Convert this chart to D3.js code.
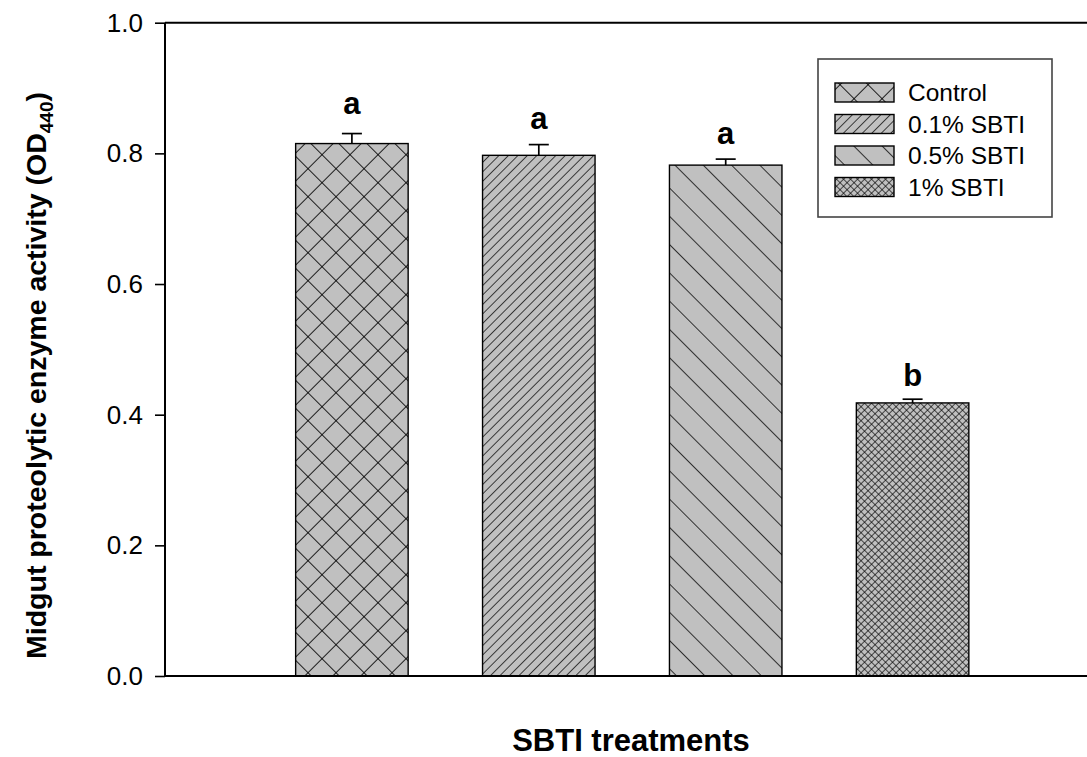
<!DOCTYPE html>
<html><head><meta charset="utf-8">
<script src="https://cdn.jsdelivr.net/npm/d3@7/dist/d3.min.js"></script>
<style>html,body{margin:0;padding:0;background:#fff;} svg{display:block;}</style>
</head><body>
<svg id="chart" width="1087" height="757"></svg>
<script>
// ---- data ----
const categories = ["Control", "0.1% SBTI", "0.5% SBTI", "1% SBTI"];
const values = [0.815, 0.797, 0.782, 0.418];
const errors = [0.0153, 0.0164, 0.0092, 0.0057];
const letters = ["a", "a", "a", "b"];
const letterY = [0.860, 0.837, 0.814, 0.444];
const yTicks = [0.0, 0.2, 0.4, 0.6, 0.8, 1.0];
const patterns = ["pCtrl", "pSlash", "pBack", "pFine"];

const svg = d3.select("#chart");
const plotLeft = 165, plotTop = 22.7, plotBottom = 676;
const x = d3.scaleLinear().domain([0, 5]).range([plotLeft, plotLeft + 5 * 186.9]);
const y = d3.scaleLinear().domain([0, 1]).range([plotBottom, plotTop]);
const barW = 112.5;
const fillGray = "#c0c0c0";
const FONT = "Liberation Sans, Arial, sans-serif";

// ---- patterns ----
const defs = svg.append("defs");
function hatch(id, spacing, angle, cross, sw) {
  const p = defs.append("pattern").attr("id", id)
    .attr("patternUnits", "userSpaceOnUse")
    .attr("width", spacing).attr("height", spacing)
    .attr("patternTransform", `rotate(${angle})`);
  p.append("rect").attr("width", spacing).attr("height", spacing).attr("fill", fillGray);
  p.append("line").attr("x1", 0).attr("y1", 0).attr("x2", 0).attr("y2", spacing)
    .attr("stroke", "#000").attr("stroke-width", sw);
  if (cross) p.append("line").attr("x1", 0).attr("y1", 0).attr("x2", spacing).attr("y2", 0)
    .attr("stroke", "#000").attr("stroke-width", sw);
}
hatch("pCtrl", 19.8, 45, true, 1.7);
hatch("pSlash", 6.7, 45, false, 1.4);
hatch("pBack", 20, -45, false, 1.5);
hatch("pFine", 4.95, 45, true, 1.3);

// ---- bars ----
const g = svg.append("g");
categories.forEach((c, i) => {
  const cx = x(i + 1);
  g.append("rect")
    .attr("x", cx - barW / 2).attr("y", y(values[i]))
    .attr("width", barW).attr("height", y(0) - y(values[i]))
    .attr("fill", `url(#${patterns[i]})`)
    .attr("stroke", "#000").attr("stroke-width", 1.4);
  g.append("line").attr("x1", cx).attr("x2", cx)
    .attr("y1", y(values[i])).attr("y2", y(values[i] + errors[i]))
    .attr("stroke", "#000").attr("stroke-width", 1.7);
  g.append("line").attr("x1", cx - 10).attr("x2", cx + 10)
    .attr("y1", y(values[i] + errors[i])).attr("y2", y(values[i] + errors[i]))
    .attr("stroke", "#000").attr("stroke-width", 1.7);
  g.append("text").attr("x", cx).attr("y", y(letterY[i]))
    .attr("text-anchor", "middle")
    .attr("font-family", FONT)
    .attr("font-weight", "bold").attr("font-size", 31)
    .text(letters[i]);
});

// ---- axes / frame ----
const yAxis = d3.axisLeft(y).tickValues(yTicks).tickFormat(d3.format(".1f"))
  .tickSize(10).tickPadding(12);
const ya = svg.append("g").attr("transform", `translate(${plotLeft},0)`).call(yAxis);
ya.select(".domain").remove();
ya.selectAll(".tick line").attr("stroke", "#000").attr("stroke-width", 1.6);
ya.selectAll(".tick text").attr("font-family", FONT)
  .attr("font-size", 26).attr("fill", "#000");

svg.append("line").attr("x1", plotLeft).attr("x2", plotLeft).attr("y1", plotTop).attr("y2", plotBottom)
  .attr("stroke", "#000").attr("stroke-width", 2);
svg.append("line").attr("x1", plotLeft).attr("x2", x(5)).attr("y1", plotTop).attr("y2", plotTop)
  .attr("stroke", "#000").attr("stroke-width", 2);
svg.append("line").attr("x1", plotLeft - 1).attr("x2", x(5)).attr("y1", plotBottom).attr("y2", plotBottom)
  .attr("stroke", "#000").attr("stroke-width", 2);

// ---- axis titles ----
svg.append("text").attr("x", 631).attr("y", 751).attr("text-anchor", "middle")
  .attr("font-family", FONT).attr("font-weight", "bold")
  .attr("font-size", 31).text("SBTI treatments");

const yt = svg.append("text").attr("transform", `translate(46,${(93 + 658) / 2}) rotate(-90)`)
  .attr("text-anchor", "middle")
  .attr("font-family", FONT).attr("font-weight", "bold")
  .attr("font-size", 28.5);
yt.append("tspan").text("Midgut proteolytic enzyme activity (OD");
yt.append("tspan").attr("font-size", 19).attr("dy", 7).text("440");
yt.append("tspan").attr("dy", -7).text(")");

// ---- legend ----
const lg = svg.append("g");
lg.append("rect").attr("x", 818).attr("y", 59).attr("width", 234).attr("height", 158)
  .attr("fill", "#fff").attr("stroke", "#444").attr("stroke-width", 1.6);
categories.forEach((c, i) => {
  const cy = 92.5 + i * 31.5;
  lg.append("rect").attr("x", 835).attr("y", cy - 9.5).attr("width", 59).attr("height", 19)
    .attr("fill", `url(#${patterns[i]})`).attr("stroke", "#000").attr("stroke-width", 1.4);
  lg.append("text").attr("x", 908).attr("y", cy + 8.5)
    .attr("font-family", FONT)
    .attr("font-size", 24.5).text(c);
});
</script>
</body></html>
